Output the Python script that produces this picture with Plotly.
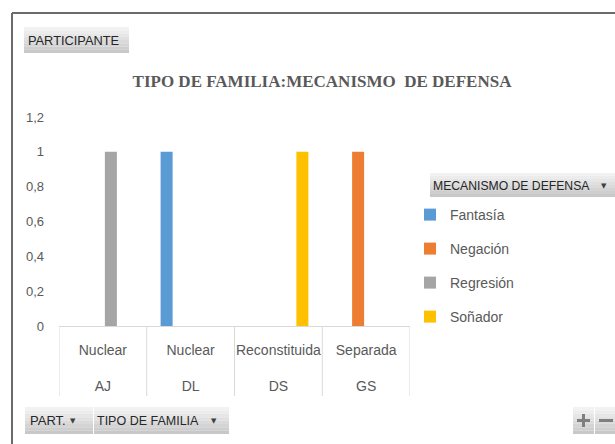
import plotly.graph_objects as go

# ---- data ----
participants = ["AJ", "DL", "DS", "GS"]
family_types = ["Nuclear", "Nuclear", "Reconstituida", "Separada"]
series_names = ["Fantasía", "Negación", "Regresión", "Soñador"]
fantasia = [None, 1, None, None]
negacion = [None, None, None, 1]
regresion = [1, None, None, None]
sonador = [None, None, 1, None]
y_tick_vals = [0, 0.2, 0.4, 0.6, 0.8, 1, 1.2]
y_tick_labels = ["0", "0,2", "0,4", "0,6", "0,8", "1", "1,2"]

series_values = [fantasia, negacion, regresion, sonador]
colors = ["#5B9BD5", "#ED7D31", "#A5A5A5", "#FFC000"]

W, H = 615, 444
L, R, T, B = 59, 410, 117, 326  # plot area in px


def px(xp):
    return (xp - L) / (R - L)


def py(yp):
    return (B - yp) / (B - T)


SANS = "Liberation Sans, Arial, sans-serif"
GREY_TXT = "#595959"

fig = go.Figure()
for name, vals, col in zip(series_names, series_values, colors):
    fig.add_trace(go.Bar(
        x=participants, y=vals, name=name, legendgroup=name,
        marker=dict(color=col, line=dict(width=0)),
        hoverinfo="skip",
    ))

shapes = []
annotations = []

# outer border (top and left)
shapes.append(dict(type="line", xref="paper", yref="paper",
                   x0=px(12), x1=px(620), y0=py(13), y1=py(13),
                   line=dict(color="#6b6b6b", width=2)))
shapes.append(dict(type="line", xref="paper", yref="paper",
                   x0=px(12), x1=px(12), y0=py(13), y1=py(450),
                   line=dict(color="#6b6b6b", width=2)))

# category dividers below the axis
for i in range(len(participants) + 1):
    shapes.append(dict(type="line", xref="x", yref="paper",
                       x0=i - 0.5, x1=i - 0.5, y0=0, y1=py(396),
                       line=dict(color="#d9d9d9", width=1)))


def button(x0, x1, y0, y1):
    n = 8
    top = (242, 242, 242)
    bot = (200, 200, 200)
    for k in range(n):
        t = k / (n - 1)
        c = tuple(int(top[j] + (bot[j] - top[j]) * t) for j in range(3))
        ya = y0 + (y1 - y0) * k / n
        yb = y0 + (y1 - y0) * (k + 1) / n
        shapes.append(dict(type="rect", xref="paper", yref="paper",
                           x0=px(x0), x1=px(x1), y0=py(ya), y1=py(yb),
                           line=dict(width=0), fillcolor="rgb(%d,%d,%d)" % c,
                           layer="below"))


def label(x, y, text, size=13, color="#262626", font=SANS, xanchor="left"):
    annotations.append(dict(xref="paper", yref="paper", x=px(x), y=py(y),
                            text=text, showarrow=False, xanchor=xanchor,
                            yanchor="middle", borderpad=0,
                            font=dict(family=font, size=size, color=color)))


ARROW_FONT = "DejaVu Sans"

# PARTICIPANTE button
button(24, 129, 27, 53)
label(27, 40.5, "PARTICIPANTE", size=12.8)

# legend header button
button(430, 620, 173, 197)
label(432, 185.5, "MECANISMO DE DEFENSA", size=12.2)
label(604, 186, "▼", size=7, color="#404040", font=ARROW_FONT, xanchor="center")

# bottom field buttons
button(25, 93, 407, 434)
label(29, 420.5, "PART.", size=13)
label(73, 421, "▼", size=7, color="#404040", font=ARROW_FONT, xanchor="center")
button(94, 229, 407, 434)
label(96, 420.5, "TIPO DE FAMILIA", size=12.5)
label(214, 421, "▼", size=7, color="#404040", font=ARROW_FONT, xanchor="center")

# +/- buttons
button(573, 594, 407, 434)
button(595, 620, 407, 434)
for (xa, ya, xb, yb) in [(577, 420.5, 590, 420.5), (583.5, 414, 583.5, 427),
                         (599, 420.5, 613, 420.5)]:
    shapes.append(dict(type="line", xref="paper", yref="paper",
                       x0=px(xa), x1=px(xb), y0=py(ya), y1=py(yb),
                       line=dict(color="#7f7f7f", width=3)))

fig.update_layout(
    width=W, height=H,
    margin=dict(l=L, r=W - R, t=T, b=H - B, pad=0),
    paper_bgcolor="white", plot_bgcolor="white",
    separators=",.",
    barmode="group", bargap=0.27, bargroupgap=0.25,
    title=dict(text="TIPO DE FAMILIA:MECANISMO  DE DEFENSA",
               x=322 / W, y=1 - 81 / H, xanchor="center", yanchor="middle",
               xref="container", yref="container",
               font=dict(family="Liberation Serif, Times New Roman, serif",
                         size=17, color=GREY_TXT, weight="bold")),
    xaxis=dict(type="category", categoryorder="array", categoryarray=participants,
               tickmode="array", tickvals=participants,
               ticktext=[f"{f}<br><br>{p}" for f, p in zip(family_types, participants)],
               showgrid=False, zeroline=False, showline=True,
               linecolor="#d9d9d9", linewidth=1, ticks="",
               ticklabelstandoff=11,
               tickfont=dict(family=SANS, size=14, color=GREY_TXT),
               range=[-0.5, len(participants) - 0.5], fixedrange=True),
    yaxis=dict(range=[0, 1.2], tickmode="array", tickvals=y_tick_vals,
               ticktext=y_tick_labels, showgrid=False, zeroline=False,
               showline=False, ticks="", ticklabelstandoff=14,
               tickfont=dict(family=SANS, size=13, color=GREY_TXT),
               fixedrange=True),
    legend=dict(x=px(410), y=py(199), xanchor="left", yanchor="top",
                bgcolor="rgba(0,0,0,0)", borderwidth=0,
                traceorder="grouped", tracegroupgap=12.8,
                font=dict(family=SANS, size=14, color=GREY_TXT),
                itemclick=False, itemdoubleclick=False),
    shapes=shapes, annotations=annotations,
    showlegend=True,
)

fig.write_html("out.html", config={"displayModeBar": False},
               post_script="document.body.style.margin='0';document.body.style.overflow='hidden';")
